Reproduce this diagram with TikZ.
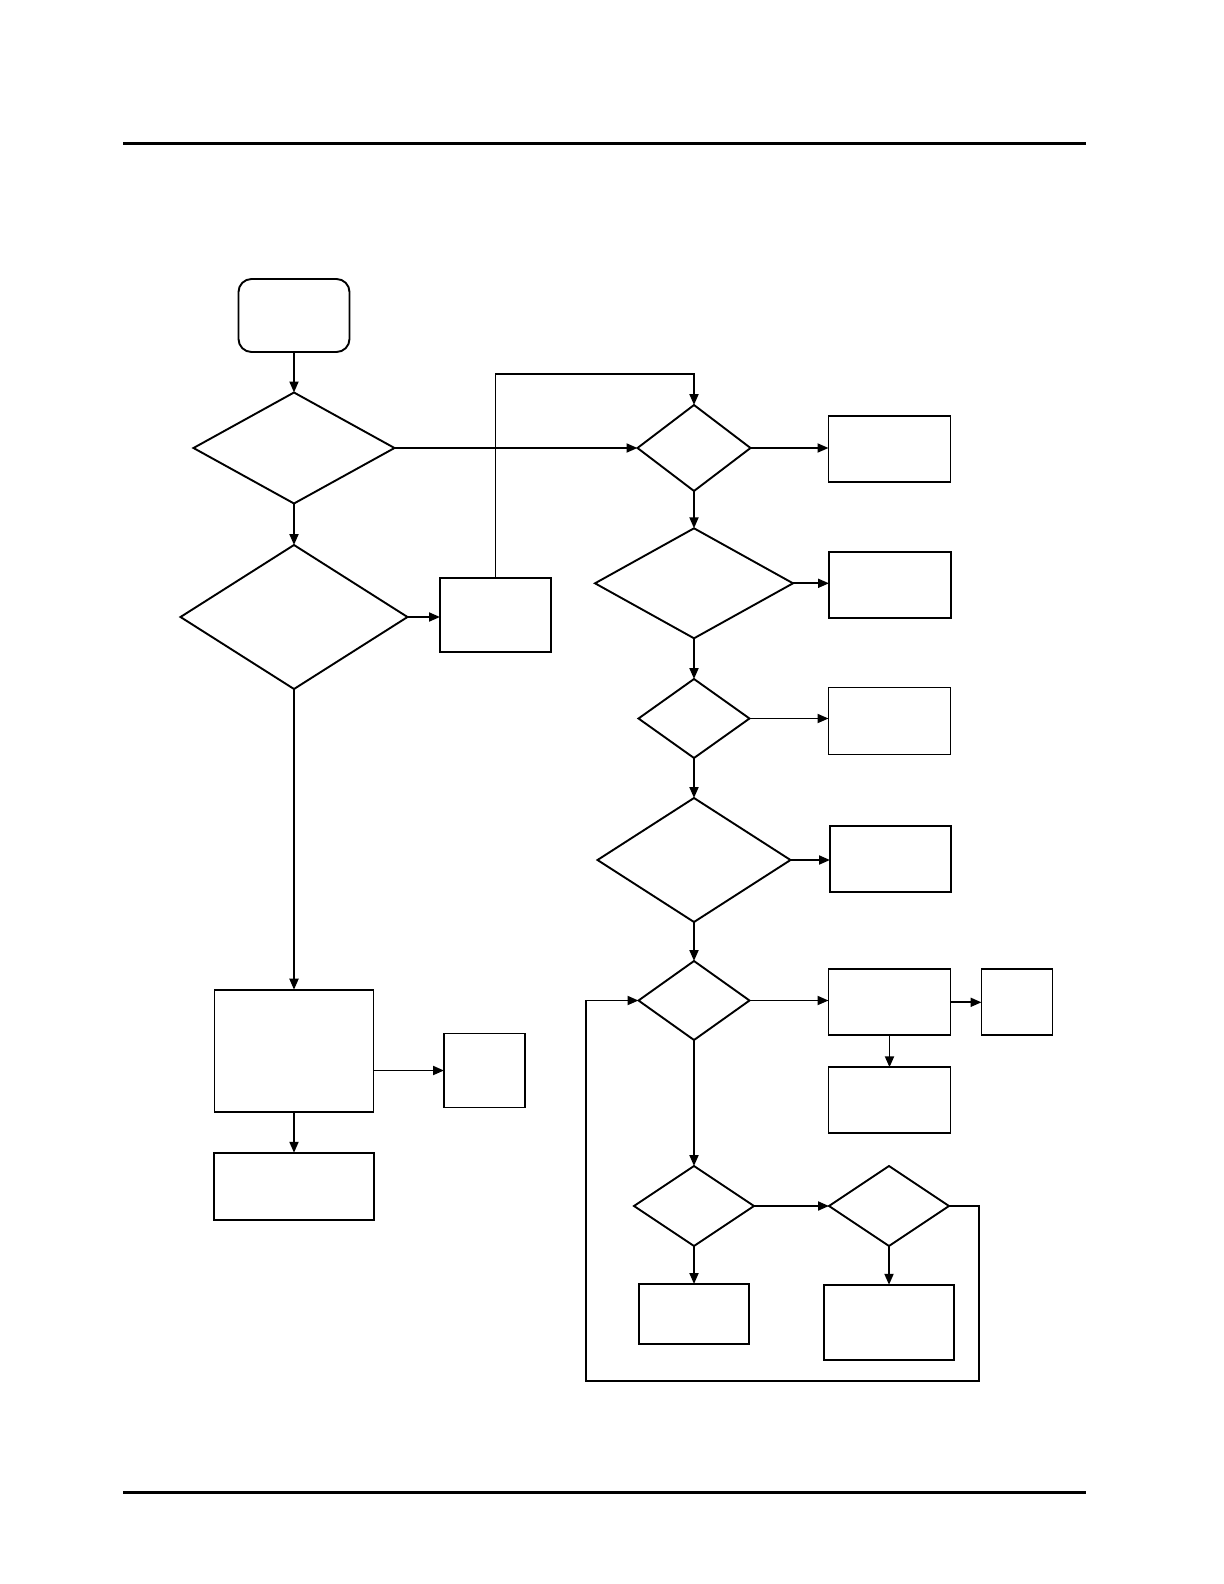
\documentclass[tikz,border=0pt]{standalone}
\usetikzlibrary{shapes.geometric,arrows.meta}
\tikzset{
  sz/.style 2 args={minimum width=#1*0.5pt, minimum height=#2*0.5pt},
  base/.style={draw, line width=0.95pt, inner sep=0pt, outer sep=0pt},
  rbox/.style={base, rectangle},
  startbox/.style={base, rectangle, rounded corners=6.5pt},
  dec/.style={base, diamond, aspect=1},
  arr/.style={line width=0.95pt, -{Triangle[length=5.5pt,width=4.5pt]}},
  ln/.style={line width=0.95pt},
  rule/.style={line width=1.4pt}
}
\begin{document}
\begin{tikzpicture}[x=0.5pt,y=-0.5pt]
\useasboundingbox (0,0) rectangle (1224,1584);
% page rules
\coordinate (rt1) at (123,143.5);
\coordinate (rt2) at (1086,143.5);
\coordinate (rb1) at (123,1492.5);
\coordinate (rb2) at (1086,1492.5);
\draw[rule] (rt1) -- (rt2);
\draw[rule] (rb1) -- (rb2);
% left column
\node[startbox, sz={111}{73}] (start) at (294,315.5) {};
\node[dec, sz={201}{111}] (d1) at (294,448) {};
\node[dec, sz={227}{144}] (d2) at (294,617) {};
\node[rbox, sz={111}{74}] (A) at (495.5,615) {};
\node[rbox, sz={159}{122}] (E1) at (294,1050.7) {};
\node[rbox, sz={81}{74}] (E2) at (484.5,1070.5) {};
\node[rbox, sz={160}{67}] (E3) at (294,1186.3) {};
% right column
\node[dec, sz={113}{86}] (d3) at (694,448) {};
\node[rbox, sz={122}{66}] (B1) at (889.5,449) {};
\node[dec, sz={198}{110}] (d4) at (694,583.3) {};
\node[rbox, sz={122}{66}] (B2) at (890,585) {};
\node[dec, sz={111}{79}] (d5) at (694,718.5) {};
\node[rbox, sz={122}{67}] (B3) at (889.5,721) {};
\node[dec, sz={193}{124}] (d6) at (694,860) {};
\node[rbox, sz={121}{66}] (B4) at (890.5,859) {};
\node[dec, sz={111}{79}] (d7) at (694,1000.5) {};
\node[rbox, sz={122}{66}] (C1) at (889.5,1002.3) {};
\node[rbox, sz={71}{66}] (C2) at (1017,1002.3) {};
\node[rbox, sz={122}{66}] (C3) at (889.5,1100.3) {};
\node[dec, sz={120}{80}] (d8) at (694,1206) {};
\node[dec, sz={120}{80}] (d9) at (889,1206) {};
\node[rbox, sz={110}{60}] (D1) at (694,1314) {};
\node[rbox, sz={130}{75}] (D2) at (889,1322.3) {};
\coordinate (lp1) at (979,1206);
\coordinate (lp2) at (979,1381);
\coordinate (lp3) at (585.7,1381);
\coordinate (lp4) at (585.7,1000.5);
\coordinate (up1) at (495.5,373.7);
\coordinate (up2) at (694,373.7);
% connectors
\draw[arr] (start.south) -- (d1.north);
\draw[arr] (d1.south) -- (d2.north);
\draw[arr] (d2.east) -- (d2.east -| A.west);
\draw[arr] (d2.south) -- (E1.north);
\draw[arr] (E1.east |- E2.west) -- (E2.west);
\draw[arr] (E1.south) -- (E3.north);
\draw[arr] (d1.east) -- (d3.west);
\draw[arr] (A.north) -- (up1) -- (up2) -- (d3.north);
\draw[arr] (d3.east) -- (d3.east -| B1.west);
\draw[arr] (d3.south) -- (d4.north);
\draw[arr] (d4.east) -- (d4.east -| B2.west);
\draw[arr] (d4.south) -- (d5.north);
\draw[arr] (d5.east) -- (d5.east -| B3.west);
\draw[arr] (d5.south) -- (d6.north);
\draw[arr] (d6.east) -- (d6.east -| B4.west);
\draw[arr] (d6.south) -- (d7.north);
\draw[arr] (d7.east) -- (d7.east -| C1.west);
\draw[arr] (C1.east) -- (C2.west);
\draw[arr] (C1.south) -- (C3.north);
\draw[arr] (d7.south) -- (d8.north);
\draw[arr] (d8.east) -- (d9.west);
\draw[arr] (d8.south) -- (D1.north);
\draw[arr] (d9.south) -- (D2.north);
\draw[arr] (d9.east) -- (lp1) -- (lp2) -- (lp3) -- (lp4) -- (d7.west);
\end{tikzpicture}
\end{document}
